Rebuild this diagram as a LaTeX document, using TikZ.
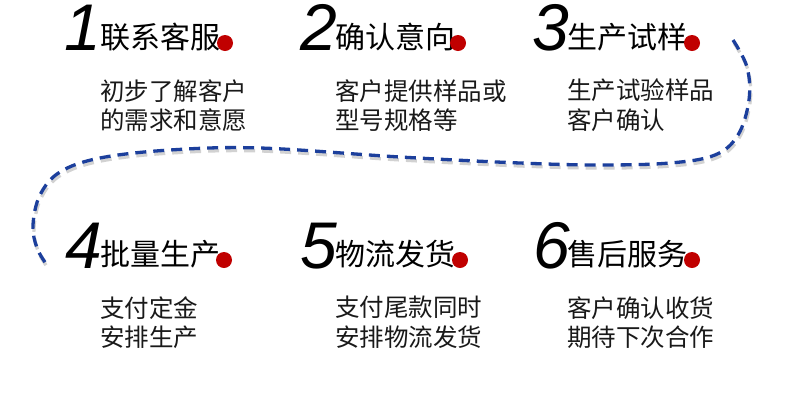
\documentclass[tikz,border=0pt]{standalone}
\usepackage{fontspec}
\setmainfont{Liberation Sans}
\newfontfamily\cjk{Noto Sans CJK SC}
\definecolor{dotred}{HTML}{C00000}
\definecolor{pathblue}{HTML}{1C3F9C}
\tikzset{
  num/.style={anchor=base west,inner sep=0pt,text height=47pt,text depth=0pt,font=\fontsize{66}{66}\selectfont\itshape},
  ttl/.style={anchor=base west,inner sep=0pt,font=\fontsize{30}{30}\selectfont\cjk},
  desc/.style={anchor=north west,inner sep=0pt,align=left,font=\fontsize{24.5}{29.5}\selectfont\cjk,text=black!90},
  dot/.style={circle,fill=dotred,inner sep=0pt,minimum size=16pt},
  route/.style={line width=3.3pt,dash pattern=on 11pt off 7pt},
}
\begin{document}
\begin{tikzpicture}[x=1pt,y=-1pt]
\useasboundingbox[fill=white] (0,0) rectangle (790,416);
% dashed route with shadow
\draw[route,gray!35,shift={(1,3)}]
  plot[smooth,tension=0.6] coordinates {(733,40) (747,67) (749,100) (738,135) (715,155) (670,163) (600,165) (520,163) (400,157) (260,148) (170,150) (100,158) (60,172) (40,195) (33,225) (37,248) (47,265)};
\draw[route,pathblue]
  plot[smooth,tension=0.6] coordinates {(733,40) (747,67) (749,100) (738,135) (715,155) (670,163) (600,165) (520,163) (400,157) (260,148) (170,150) (100,158) (60,172) (40,195) (33,225) (37,248) (47,265)};
% row 1
\node[num] (n1) at (64,50) {1};
\node[ttl] (t1) at (100,48) {联系客服};
\node[dot] (d1) at (225,43) {};
\node[desc] (s1) at (100,79) {初步了解客户\\的需求和意愿};
\node[num] (n2) at (300,50) {2};
\node[ttl] (t2) at (335,48) {确认意向};
\node[dot] (d2) at (458,43) {};
\node[desc] (s2) at (335,79) {客户提供样品或\\型号规格等};
\node[num] (n3) at (532,50) {3};
\node[ttl] (t3) at (567,48) {生产试样};
\node[dot] (d3) at (692,43) {};
\node[desc] (s3) at (567,79) {生产试验样品\\客户确认};
% row 2
\node[num] (n4) at (65,268) {4};
\node[ttl] (t4) at (100,265) {批量生产};
\node[dot] (d4) at (224,260) {};
\node[desc] (s4) at (100,296) {支付定金\\安排生产};
\node[num] (n5) at (300,268) {5};
\node[ttl] (t5) at (335,265) {物流发货};
\node[dot] (d5) at (460,260) {};
\node[desc] (s5) at (335,296) {支付尾款同时\\安排物流发货};
\node[num] (n6) at (533,268) {6};
\node[ttl] (t6) at (567,265) {售后服务};
\node[dot] (d6) at (692,260) {};
\node[desc] (s6) at (567,296) {客户确认收货\\期待下次合作};
\end{tikzpicture}
\end{document}
